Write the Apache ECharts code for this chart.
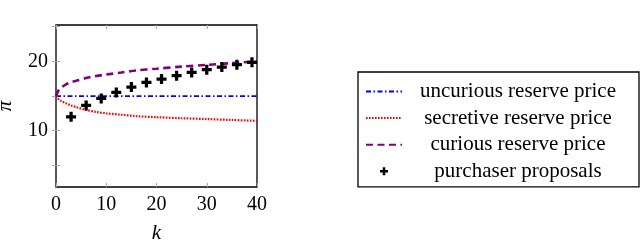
<!DOCTYPE html>
<html>
<head>
<meta charset="utf-8">
<script src="https://cdn.jsdelivr.net/npm/echarts@6/dist/echarts.min.js"></script>
<style>html,body{margin:0;padding:0;background:#fff;}#c{width:640px;height:240px;}</style>
</head>
<body>
<div id="c"></div>
<script>
// ---- data ----
var uncuriousK = [0, 40];
var uncuriousPrice = [15, 15];
var curveK = [0, 0.5, 1, 2, 3, 4, 6, 8, 10, 13, 16, 20, 25, 30, 35, 40];
var secretivePrice = [15, 14.55, 14.3, 13.95, 13.65, 13.4, 13.0, 12.7, 12.5, 12.3, 12.1, 11.95, 11.8, 11.68, 11.55, 11.42];
var curiousPrice = [15, 15.8, 16.2, 16.7, 17.0, 17.2, 17.6, 17.9, 18.1, 18.4, 18.7, 18.95, 19.25, 19.5, 19.75, 20.0];
var proposalK = [3, 6, 9, 12, 15, 18, 21, 24, 27, 30, 33, 36, 39];
var proposalPrice = [12.0, 13.65, 14.66, 15.53, 16.3, 16.97, 17.46, 17.94, 18.41, 18.8, 19.19, 19.52, 19.86];
var xTicks = [0, 10, 20, 30, 40];
var yTickLabels = [10, 20];
var yTicks = [5, 10, 15, 20, 25];
var seriesNames = ['uncurious reserve price', 'secretive reserve price', 'curious reserve price', 'purchaser proposals'];

function pairs(xs, ys) { return xs.map(function (x, i) { return [x, ys[i]]; }); }

var FONT = '"Liberation Serif", serif';
var plusPath = 'path://M2.7,0H5.3V2.7H8V5.3H5.3V8H2.7V5.3H0V2.7H2.7Z';

var chart = echarts.init(document.getElementById('c'), null, { renderer: 'canvas' });
var tickStyle = { show: true, inside: true, length: 4, lineStyle: { color: '#aaa', width: 1 } };
var XMIN = 0, XMAX = 40, YMIN = 1.88, YMAX = 25.25;

chart.setOption({
  animation: false,
  backgroundColor: '#fff',
  grid: { left: 56, right: 383, top: 25, bottom: 53, show: true, borderColor: '#000', borderWidth: 1.3,
          containLabel: false, outerBoundsMode: 'none' },
  xAxis: [{
    type: 'value', min: XMIN, max: XMAX, position: 'bottom',
    name: 'k', nameLocation: 'middle', nameGap: 36,
    nameTextStyle: { fontFamily: FONT, fontSize: 21, fontStyle: 'italic', color: '#000' },
    axisLine: { show: false },
    axisTick: Object.assign({ customValues: xTicks }, tickStyle),
    axisLabel: { customValues: xTicks, fontFamily: FONT, fontSize: 20, color: '#000', margin: 8 },
    splitLine: { show: false }
  }, {
    type: 'value', min: XMIN, max: XMAX, position: 'top',
    axisLine: { show: false },
    axisTick: Object.assign({ customValues: xTicks }, tickStyle),
    axisLabel: { show: false }, splitLine: { show: false }
  }],
  yAxis: [{
    type: 'value', min: YMIN, max: YMAX, position: 'left',
    name: 'π', nameLocation: 'middle', nameGap: 40,
    nameTextStyle: { fontFamily: FONT, fontSize: 21, fontStyle: 'italic', color: '#000' },
    axisLine: { show: false },
    axisTick: Object.assign({ customValues: yTicks }, tickStyle),
    axisLabel: { customValues: yTickLabels, fontFamily: FONT, fontSize: 20, color: '#000', margin: 8 },
    splitLine: { show: false }
  }, {
    type: 'value', min: YMIN, max: YMAX, position: 'right',
    axisLine: { show: false },
    axisTick: Object.assign({ customValues: yTicks }, tickStyle),
    axisLabel: { show: false }, splitLine: { show: false }
  }],
  legend: {
    orient: 'vertical', left: 358, top: 72,
    padding: [9, 10, 5, 7],
    borderColor: '#000', borderWidth: 1.3,
    itemWidth: 36, itemHeight: 8, itemGap: 5.6,
    data: [
      { name: seriesNames[0], itemStyle: { opacity: 0 } },
      { name: seriesNames[1], itemStyle: { opacity: 0 } },
      { name: seriesNames[2], itemStyle: { opacity: 0 } },
      { name: seriesNames[3] }
    ],
    formatter: function (n) { return '{a|' + n + '}'; },
    textStyle: {
      fontFamily: FONT, fontSize: 21, color: '#000',
      rich: { a: { width: 222, align: 'center', lineHeight: 22, fontFamily: FONT, fontSize: 21, color: '#000' } }
    }
  },
  series: [{
    name: seriesNames[0], type: 'line', data: pairs(uncuriousK, uncuriousPrice),
    symbol: 'none', lineStyle: { color: '#0000ff', width: 1.8, type: [5, 2.5, 1.5, 2.5] }, itemStyle: { color: '#0000ff' }, z: 3
  }, {
    name: seriesNames[1], type: 'line', data: pairs(curveK, secretivePrice), smooth: 0.3,
    symbol: 'none', lineStyle: { color: '#ff0000', width: 2.2, type: [1.6, 1.4] }, itemStyle: { color: '#ff0000' }, z: 3
  }, {
    name: seriesNames[2], type: 'line', data: pairs(curveK, curiousPrice), smooth: 0.3,
    symbol: 'none', lineStyle: { color: '#800080', width: 2.6, type: [7, 4.5] }, itemStyle: { color: '#800080' }, z: 3
  }, {
    name: seriesNames[3], type: 'scatter', data: pairs(proposalK, proposalPrice),
    symbol: plusPath, symbolSize: 10, itemStyle: { color: '#000', opacity: 1 }, z: 4
  }]
});
</script>
</body>
</html>
